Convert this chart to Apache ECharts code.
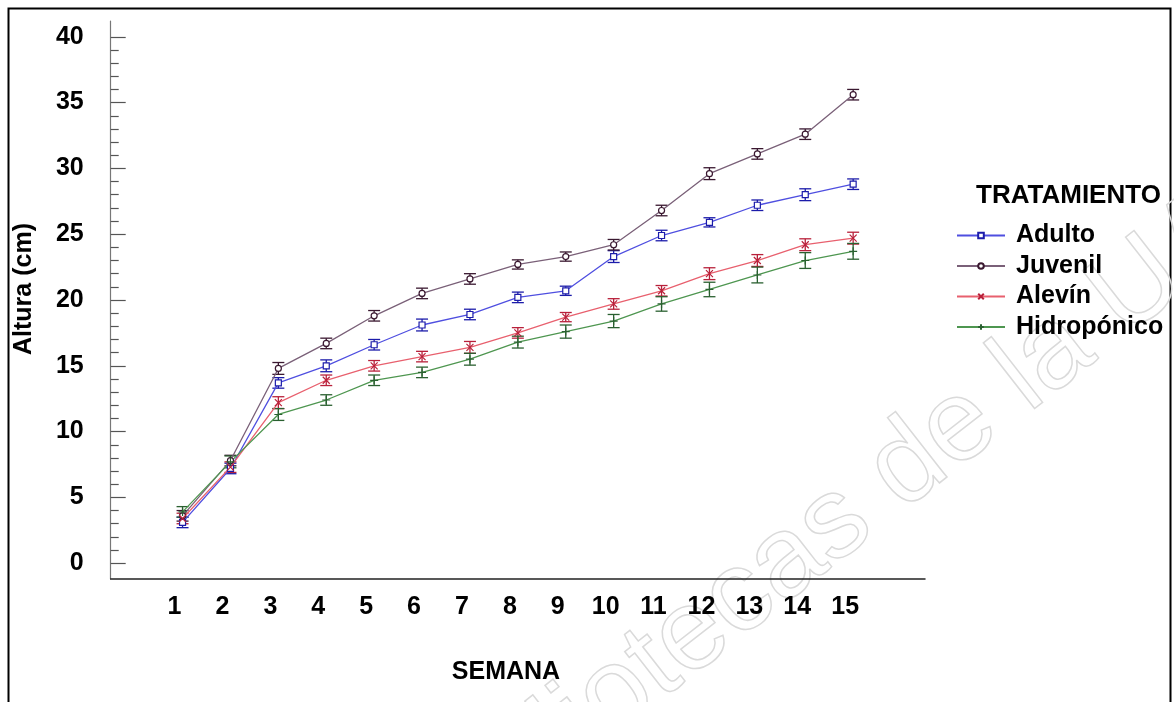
<!DOCTYPE html>
<html>
<head>
<meta charset="utf-8">
<script src="https://cdn.jsdelivr.net/npm/echarts@6/dist/echarts.min.js"></script>
<style>
html,body{margin:0;padding:0;background:#fff;}
#chart{width:1174px;height:702px;}
</style>
</head>
<body>
<div id="chart"></div>
<script>
var weeks = [1,2,3,4,5,6,7,8,9,10,11,12,13,14,15];
var yMajorTicks = [0,5,10,15,20,25,30,35,40];
var seriesNames = ['Adulto','Juvenil','Alevín','Hidropónico'];
var adulto  = [3.1, 7.2, 13.7, 15.0, 16.6, 18.1, 18.9, 20.2, 20.7, 23.3, 24.9, 25.9, 27.2, 28.0, 28.8];
var juvenil = [3.6, 7.8, 14.8, 16.7, 18.8, 20.5, 21.6, 22.7, 23.3, 24.2, 26.8, 29.6, 31.1, 32.6, 35.6];
var alevin  = [3.4, 7.3, 12.2, 13.9, 15.0, 15.7, 16.4, 17.5, 18.7, 19.7, 20.7, 22.0, 23.0, 24.2, 24.7];
var hidro   = [3.9, 7.7, 11.3, 12.4, 13.9, 14.5, 15.5, 16.8, 17.6, 18.4, 19.7, 20.8, 21.9, 23.0, 23.7];
var adultoErr  = [0.40, 0.40, 0.40, 0.45, 0.40, 0.45, 0.40, 0.40, 0.35, 0.45, 0.40, 0.35, 0.40, 0.45, 0.40];
var juvenilErr = [0.40, 0.40, 0.45, 0.40, 0.40, 0.40, 0.40, 0.35, 0.35, 0.40, 0.40, 0.45, 0.40, 0.40, 0.40];
var alevinErr  = [0.40, 0.40, 0.45, 0.40, 0.40, 0.40, 0.45, 0.40, 0.35, 0.40, 0.40, 0.45, 0.45, 0.45, 0.45];
var hidroErr   = [0.40, 0.45, 0.45, 0.40, 0.40, 0.40, 0.45, 0.45, 0.50, 0.50, 0.55, 0.55, 0.60, 0.60, 0.60];

var FONT = '"Liberation Sans", Arial, sans-serif';
var styles = [
  {line:'#4f4fe0', dark:'#1c1caa', symbol:'rect', size:6},
  {line:'#7a6078', dark:'#3a1830', symbol:'circle', size:6},
  {line:'#e8606e', dark:'#b8203a', symbol:'path://M0,0L10,10M10,0L0,10', size:7},
  {line:'#4e9650', dark:'#2a6030', symbol:'path://M5,0L5,10M4,5L6,5', size:8}
];
var values = [adulto, juvenil, alevin, hidro];
var errs = [adultoErr, juvenilErr, alevinErr, hidroErr];

var minorTicks = [];
for (var i = 1; i < 40; i++) { if (i % 5 !== 0) minorTicks.push(i); }

var series = [];
seriesNames.forEach(function(name, k){
  var st = styles[k];
  series.push({
    name: name + ' (error)', type: 'custom', xAxisIndex: 0, yAxisIndex: 0, silent: true, z: 3,
    data: weeks.map(function(w, i){ return [w, values[k][i] - errs[k][i], values[k][i] + errs[k][i]]; }),
    renderItem: function(params, api){
      var lo = api.coord([api.value(0), api.value(1)]);
      var hi = api.coord([api.value(0), api.value(2)]);
      var hw = 6;
      var s = {stroke: st.dark, lineWidth: 1.3};
      return {type:'group', children:[
        {type:'line', shape:{x1:lo[0], y1:lo[1], x2:hi[0], y2:hi[1]}, style:s},
        {type:'line', shape:{x1:lo[0]-hw, y1:lo[1], x2:lo[0]+hw, y2:lo[1]}, style:s},
        {type:'line', shape:{x1:hi[0]-hw, y1:hi[1], x2:hi[0]+hw, y2:hi[1]}, style:s}
      ]};
    }
  });
  series.push({
    name: name, type: 'line', xAxisIndex: 0, yAxisIndex: 0, z: 4,
    data: weeks.map(function(w, i){ return [w, values[k][i]]; }),
    symbol: st.symbol, symbolSize: st.size, showAllSymbol: true,
    color: st.line,
    lineStyle: {color: st.line, width: 1.3},
    itemStyle: {color: '#ffffff', borderColor: st.dark, borderWidth: 1.2},
    emphasis: {disabled: true}
  });
});

var chart = echarts.init(document.getElementById('chart'), null, {renderer:'canvas'});
chart.setOption({
  animation: false,
  backgroundColor: '#ffffff',
  grid: {left: 110.7, right: 249, top: 21, bottom: 123, containLabel: false},
  xAxis: [{
    type: 'value', min: -0.5, max: 16.5,
    axisLine: {show: true, onZero: false, lineStyle: {color: '#222', width: 1.5}},
    axisTick: {show: false},
    splitLine: {show: false},
    axisLabel: {
      customValues: weeks, margin: 16, padding: [0, 16, 0, 0],
      fontFamily: FONT, fontWeight: 'bold', fontSize: 25, color: '#000'
    }
  }],
  yAxis: [{
    type: 'value', min: -1.2, max: 41.2,
    axisLine: {show: true, onZero: false, lineStyle: {color: '#777', width: 1.2}},
    axisTick: {show: true, inside: true, length: 15, customValues: yMajorTicks, lineStyle: {color: '#555', width: 1.2}},
    splitLine: {show: false},
    axisLabel: {
      customValues: yMajorTicks, margin: 27,
      fontFamily: FONT, fontWeight: 'bold', fontSize: 25, color: '#000'
    }
  }, {
    type: 'value', min: -1.2, max: 41.2, position: 'left', offset: 0,
    axisLine: {show: false, onZero: false},
    axisTick: {show: true, inside: true, length: 8, customValues: minorTicks, lineStyle: {color: '#555', width: 1.2}},
    splitLine: {show: false},
    axisLabel: {show: false}
  }],
  legend: {
    data: seriesNames,
    orient: 'vertical', left: 951, top: 218,
    itemWidth: 48, itemHeight: 7, itemGap: 5.5,
    textStyle: {fontFamily: FONT, fontWeight: 'bold', fontSize: 25, color: '#000', padding: [0,0,0,6]},
    selectedMode: false
  },
  graphic: [
    {type: 'rect', silent: true, z: -10, shape: {x: 8.5, y: 8.5, width: 1162, height: 720},
     style: {fill: 'none', stroke: '#000', lineWidth: 2}},
    {type: 'text', silent: true, z: -5, x: 1296, y: 164, rotation: 38 * Math.PI / 180,
     style: {text: 'Bibliotecas de la UAC', font: '115px ' + FONT, fill: 'none', stroke: '#dadada', lineWidth: 1.5,
             textAlign: 'right', textVerticalAlign: 'middle'}},
    {type: 'text', silent: true, x: 976, y: 196,
     style: {text: 'TRATAMIENTO', font: 'bold 26px ' + FONT, fill: '#000', textVerticalAlign: 'middle'}},
    {type: 'text', silent: true, x: 506, y: 672,
     style: {text: 'SEMANA', font: 'bold 25px ' + FONT, fill: '#000', textAlign: 'center', textVerticalAlign: 'middle'}},
    {type: 'text', silent: true, x: 24, y: 289, rotation: Math.PI/2,
     style: {text: 'Altura (cm)', font: 'bold 25px ' + FONT, fill: '#000', textAlign: 'center', textVerticalAlign: 'middle'}}
  ],
  series: series
});
</script>
</body>
</html>
